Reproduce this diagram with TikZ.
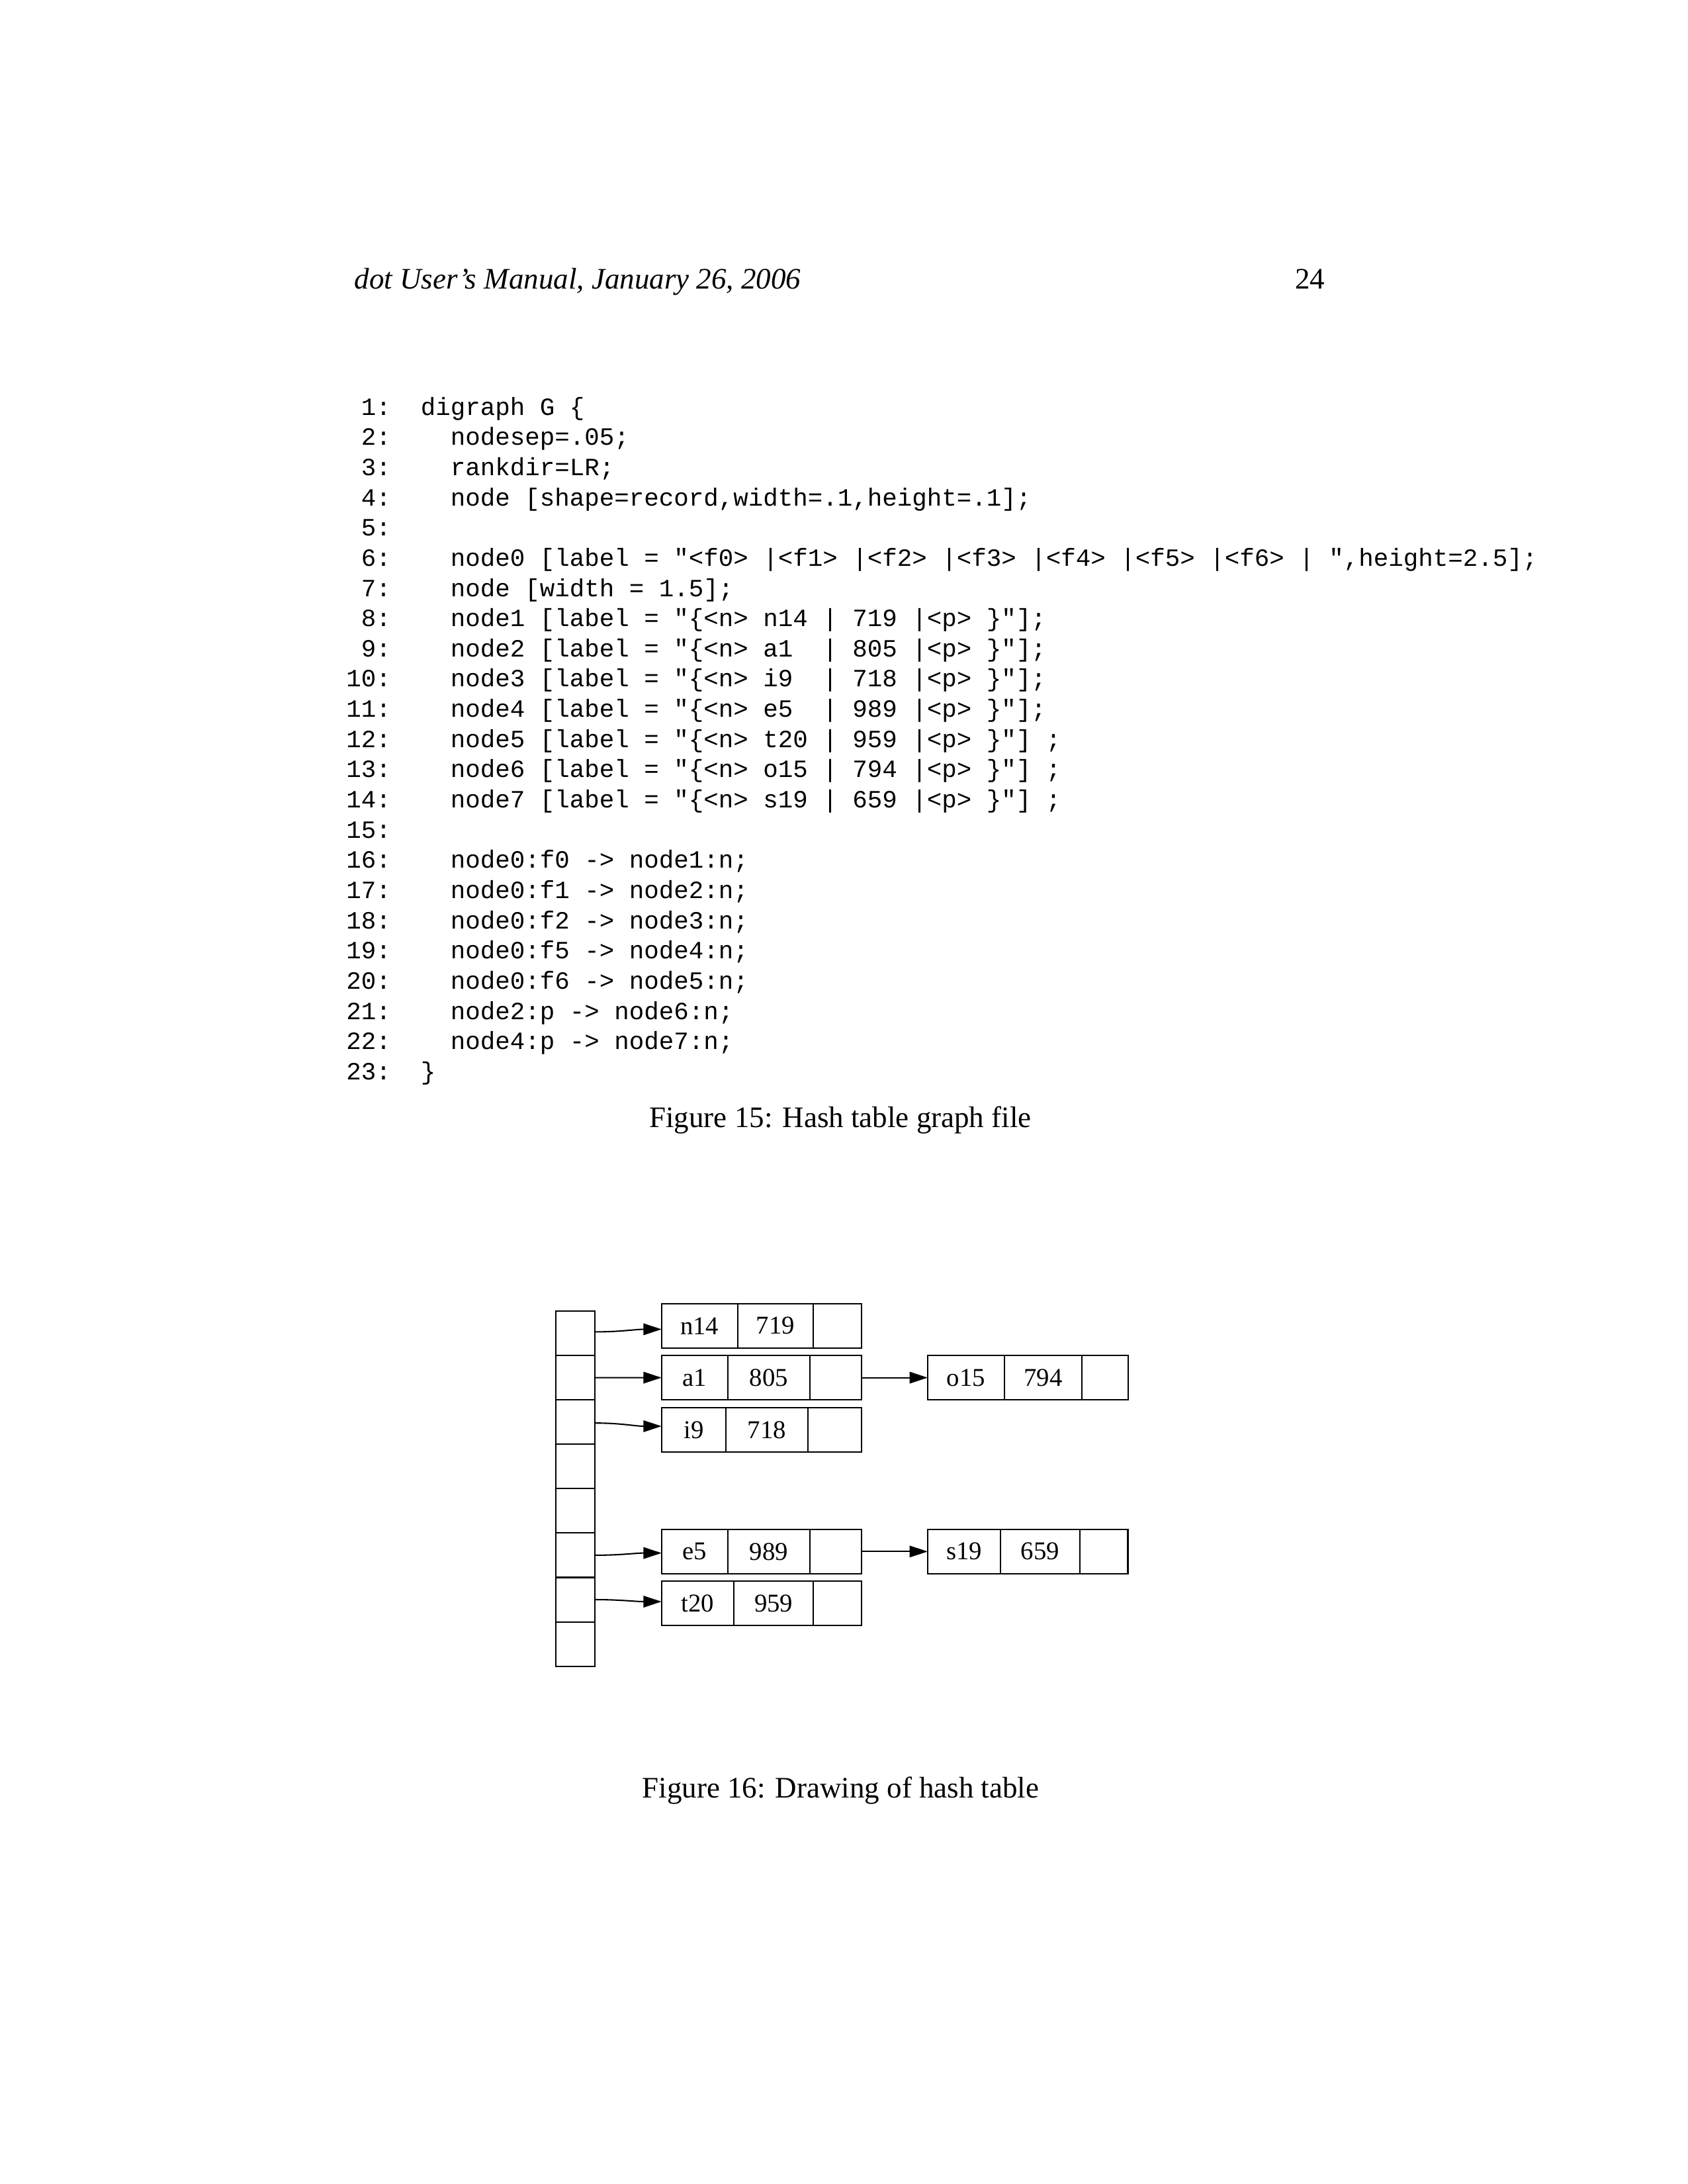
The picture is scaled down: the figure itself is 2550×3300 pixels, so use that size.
\documentclass[tikz,border=0pt]{standalone}
\usepackage{fontspec}
\setmainfont{Liberation Serif}
\setmonofont{Liberation Mono}
\usetikzlibrary{positioning, arrows.meta}

\tikzset{
    cell/.style={draw, line width=0.5pt, minimum width=14.1pt, minimum height=16.1pt, inner sep=0pt, outer sep=0pt},
    fld/.style={draw, line width=0.5pt, minimum width=#1, minimum height=16pt, inner sep=0pt, outer sep=0pt, font=\fontsize{9.3}{11}\selectfont},
    ptr/.style={-{Triangle[length=6.6pt, width=4.2pt]}, line width=0.5pt},
}

\begin{document}
\begin{tikzpicture}[x=0.24pt, y=-0.24pt, font=\fontsize{10.8}{13}\selectfont]
    \useasboundingbox (0,0) rectangle (2550,3300);

    \node[anchor=base west, font=\fontsize{10.8}{13}\selectfont\itshape] (head) at (521,436) {dot User’s Manual, January 26, 2006};
    \node[anchor=base east] (page) at (2017,436) {24};

    \node[anchor=base west, inner sep=0pt, font=\fontsize{9}{10.96}\selectfont\ttfamily] (listing) at (522.5,627) {%
    \begin{tabular}[t]{@{}r@{~~}l@{}}
    1: & digraph G \{\\
    2: & ~~nodesep=.05;\\
    3: & ~~rankdir=LR;\\
    4: & ~~node [shape=record,width=.1,height=.1];\\
    5: & \\
    6: & ~~node0 [label = "<f0> |<f1> |<f2> |<f3> |<f4> |<f5> |<f6> | ",height=2.5];\\
    7: & ~~node [width = 1.5];\\
    8: & ~~node1 [label = "\{<n> n14 | 719 |<p> \}"];\\
    9: & ~~node2 [label = "\{<n> a1~~| 805 |<p> \}"];\\
    10: & ~~node3 [label = "\{<n> i9~~| 718 |<p> \}"];\\
    11: & ~~node4 [label = "\{<n> e5~~| 989 |<p> \}"];\\
    12: & ~~node5 [label = "\{<n> t20 | 959 |<p> \}"] ;\\
    13: & ~~node6 [label = "\{<n> o15 | 794 |<p> \}"] ;\\
    14: & ~~node7 [label = "\{<n> s19 | 659 |<p> \}"] ;\\
    15: & \\
    16: & ~~node0:f0 -> node1:n;\\
    17: & ~~node0:f1 -> node2:n;\\
    18: & ~~node0:f2 -> node3:n;\\
    19: & ~~node0:f5 -> node4:n;\\
    20: & ~~node0:f6 -> node5:n;\\
    21: & ~~node2:p -> node6:n;\\
    22: & ~~node4:p -> node7:n;\\
    23: & \}
    \end{tabular}};

    \node[anchor=base] (cap15) at (1270,1703) {Figure 15: Hash table graph file};

    % hash table
    \node[cell] (f0) at (869.35,2014.5) {};
    \foreach \i [count=\j from 0] in {1,...,7}
        \node[cell, below=0pt of f\j] (f\i) {};

    % entries
    \node[fld=27.55pt] (r1n) at (1057.2,2003.3) {n14};
    \node[fld=27.55pt, right=0pt of r1n] (r1v) {719};
    \node[fld=17.5pt, right=0pt of r1v] (r1p) {};

    \node[fld=24.05pt] (r2n) at (1049.9,2081.6) {a1};
    \node[fld=29.66pt, right=0pt of r2n] (r2v) {805};
    \node[fld=18.89pt, right=0pt of r2v] (r2p) {};

    \node[fld=23.33pt] (r3n) at (1048.4,2160.4) {i9};
    \node[fld=29.71pt, right=0pt of r3n] (r3v) {718};
    \node[fld=19.56pt, right=0pt of r3v] (r3p) {};

    \node[fld=24.05pt] (r4n) at (1049.9,2344.3) {e5};
    \node[fld=29.66pt, right=0pt of r4n] (r4v) {989};
    \node[fld=18.89pt, right=0pt of r4v] (r4p) {};

    \node[fld=26.16pt] (r5n) at (1054.3,2422.5) {t20};
    \node[fld=28.94pt, right=0pt of r5n] (r5v) {959};
    \node[fld=17.5pt, right=0pt of r5v] (r5p) {};

    \node[fld=27.74pt] (r6n) at (1459.8,2081.6) {o15};
    \node[fld=28.18pt, right=0pt of r6n] (r6v) {794};
    \node[fld=16.7pt, right=0pt of r6v] (r6p) {};

    \node[fld=26.4pt] (r7n) at (1457,2344.3) {s19};
    \node[fld=28.8pt, right=0pt of r7n] (r7v) {659};
    \node[fld=17.4pt, right=0pt of r7v] (r7p) {};

    \draw[ptr] ([yshift=0.5pt]f0.east) to[out=0, in=180] ([yshift=-1.25pt]r1n.west);
    \draw[ptr] (f1.east) -- (r2n.west);
    \draw[ptr] ([yshift=-0.36pt]f2.east) to[out=0, in=180] ([yshift=1.3pt]r3n.west);
    \draw[ptr] (f5.east) to[out=0, in=180] ([yshift=-0.55pt]r4n.west);
    \draw[ptr] (f6.east) to[out=0, in=180] ([yshift=0.6pt]r5n.west);
    \draw[ptr] (r2p.east) -- (r6n.west);
    \draw[ptr] (r4p.east) -- (r7n.west);

    \node[anchor=base] (cap16) at (1270.5,2716) {Figure 16: Drawing of hash table};
\end{tikzpicture}
\end{document}
